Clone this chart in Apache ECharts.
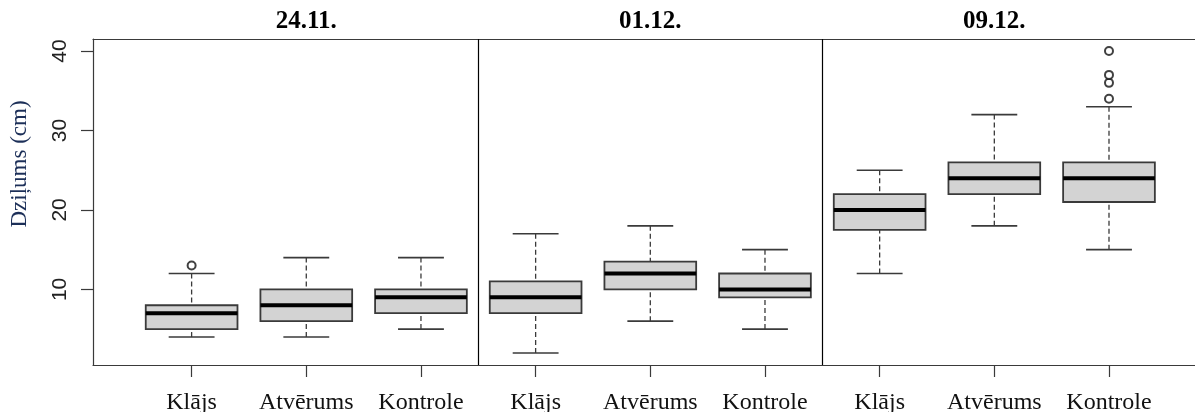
<!DOCTYPE html>
<html>
<head>
<meta charset="utf-8">
<title>Dziļums</title>
<script src="https://cdn.jsdelivr.net/npm/echarts@6/dist/echarts.min.js"></script>
<style>
  html, body { margin: 0; padding: 0; background: #fff; }
  #chart { width: 1195px; height: 412px; }
</style>
</head>
<body>
<div id="chart"></div>
<script>
// Measurement dates (one panel each) and treatments within a panel
const dates = ['24.11.', '01.12.', '09.12.'];
const treatments = ['Klājs', 'Atvērums', 'Kontrole'];

// Box statistics per treatment: [lower whisker, Q1, median, Q3, upper whisker]
const stats2411 = [[4, 5, 7, 8, 12], [4, 6, 8, 10, 14], [5, 7, 9, 10, 14]];
const stats0112 = [[2, 7, 9, 11, 17], [6, 10, 12, 13.5, 18], [5, 9, 10, 12, 15]];
const stats0912 = [[12, 17.5, 20, 22, 25], [18, 22, 24, 26, 32], [15, 21, 24, 26, 33]];

// Outlying observations per treatment
const outliers2411 = [[13], [], []];
const outliers0112 = [[], [], []];
const outliers0912 = [[], [], [34, 36, 37, 40]];

// Axis ticks
const yTicks = [10, 20, 30, 40];

const statsByDate = [stats2411, stats0112, stats0912];
const outliersByDate = [outliers2411, outliers0112, outliers0912];
const nT = treatments.length;

const boxData = [];
const outlierData = [];
statsByDate.forEach((dateStats, d) => {
  dateStats.forEach((s, t) => {
    const pos = d * nT + t + 1;
    boxData.push([pos].concat(s));
    outliersByDate[d][t].forEach(v => outlierData.push([pos, v]));
  });
});
const positions = boxData.map(b => b[0]);
const panelCenters = dates.map((_, d) => d * nT + (nT + 1) / 2);
const separators = dates.slice(1).map((_, d) => (d + 1) * nT + 0.5);

const serif = '"Liberation Serif", "Times New Roman", serif';
const lineColor = '#3a3a3a';

function renderBox(params, api) {
  const x = api.value(0);
  const lo = api.value(1), q1 = api.value(2), med = api.value(3), q3 = api.value(4), hi = api.value(5);
  const bw = 0.4, cw = 0.2;
  const pTL = api.coord([x - bw, q3]);
  const pBR = api.coord([x + bw, q1]);
  const pMedL = api.coord([x - bw, med]);
  const pMedR = api.coord([x + bw, med]);
  const pLo = api.coord([x, lo]);
  const pHi = api.coord([x, hi]);
  const pQ1 = api.coord([x, q1]);
  const pQ3 = api.coord([x, q3]);
  const capLoL = api.coord([x - cw, lo]), capLoR = api.coord([x + cw, lo]);
  const capHiL = api.coord([x - cw, hi]), capHiR = api.coord([x + cw, hi]);
  const solid = { stroke: lineColor, lineWidth: 1.6 };
  const dashed = { stroke: lineColor, lineWidth: 1.3, lineDash: [5, 3] };
  return {
    type: 'group',
    children: [
      { type: 'line', shape: { x1: pHi[0], y1: pHi[1], x2: pQ3[0], y2: pQ3[1] }, style: dashed },
      { type: 'line', shape: { x1: pLo[0], y1: pLo[1], x2: pQ1[0], y2: pQ1[1] }, style: dashed },
      { type: 'line', shape: { x1: capHiL[0], y1: capHiL[1], x2: capHiR[0], y2: capHiR[1] }, style: solid },
      { type: 'line', shape: { x1: capLoL[0], y1: capLoL[1], x2: capLoR[0], y2: capLoR[1] }, style: solid },
      {
        type: 'rect',
        shape: { x: pTL[0], y: pTL[1], width: pBR[0] - pTL[0], height: pBR[1] - pTL[1] },
        style: { fill: '#d3d3d3', stroke: lineColor, lineWidth: 1.8 }
      },
      { type: 'line', shape: { x1: pMedL[0], y1: pMedL[1], x2: pMedR[0], y2: pMedR[1] }, style: { stroke: '#000', lineWidth: 4 } }
    ]
  };
}

const chart = echarts.init(document.getElementById('chart'), null, { renderer: 'canvas' });
chart.setOption({
  animation: false,
  backgroundColor: '#ffffff',
  grid: { left: 93, right: 0, top: 39, bottom: 47, containLabel: false, outerBoundsMode: 'none' },
  xAxis: [
    {
      type: 'value', position: 'bottom', min: 0.14, max: 9.75,
      splitLine: { show: false },
      axisLine: { show: true, onZero: false, lineStyle: { color: lineColor, width: 1.2 } },
      axisTick: { show: true, customValues: positions, length: 12, lineStyle: { color: lineColor, width: 1.2 } },
      axisLabel: {
        customValues: positions, margin: 26,
        formatter: v => treatments[(Math.round(v) - 1) % nT],
        fontFamily: serif, fontSize: 24, color: '#111'
      }
    },
    {
      type: 'value', position: 'top', min: 0.14, max: 9.75,
      splitLine: { show: false },
      axisLine: { show: true, onZero: false, lineStyle: { color: lineColor, width: 1.2 } },
      axisTick: { show: false },
      axisLabel: {
        customValues: panelCenters, margin: 5,
        formatter: v => dates[Math.round((v - (nT + 1) / 2) / nT)],
        fontFamily: serif, fontSize: 25, fontWeight: 'bold', color: '#000'
      }
    }
  ],
  yAxis: {
    type: 'value', min: 0.48, max: 41.52,
    splitLine: { show: false },
    axisLine: { show: true, onZero: false, lineStyle: { color: lineColor, width: 1.2 } },
    axisTick: { show: true, customValues: yTicks, length: 12, lineStyle: { color: lineColor, width: 1.2 } },
    axisLabel: {
      customValues: yTicks, rotate: 90, margin: 22,
      fontFamily: '"Liberation Sans", Arial, sans-serif', fontSize: 21, color: '#222'
    }
  },
  graphic: [{
    type: 'text',
    x: 20, y: 164,
    rotation: Math.PI / 2,
    style: {
      text: 'Dziļums (cm)',
      font: '23px ' + serif,
      fill: '#1c2f58',
      align: 'center',
      verticalAlign: 'middle'
    }
  }],
  series: [
    {
      type: 'custom',
      name: 'boxes',
      renderItem: renderBox,
      encode: { x: 0, y: [1, 2, 3, 4, 5] },
      data: boxData,
      z: 3
    },
    {
      type: 'scatter',
      name: 'outliers',
      data: outlierData,
      symbol: 'emptyCircle',
      symbolSize: 8,
      itemStyle: { color: '#111', borderColor: '#111', borderWidth: 1 },
      z: 4,
      markLine: {
        silent: true,
        symbol: ['none', 'none'],
        label: { show: false },
        lineStyle: { color: '#000', width: 1.2, type: 'solid' },
        data: separators.map(s => ({ xAxis: s }))
      }
    }
  ]
});
</script>
</body>
</html>
